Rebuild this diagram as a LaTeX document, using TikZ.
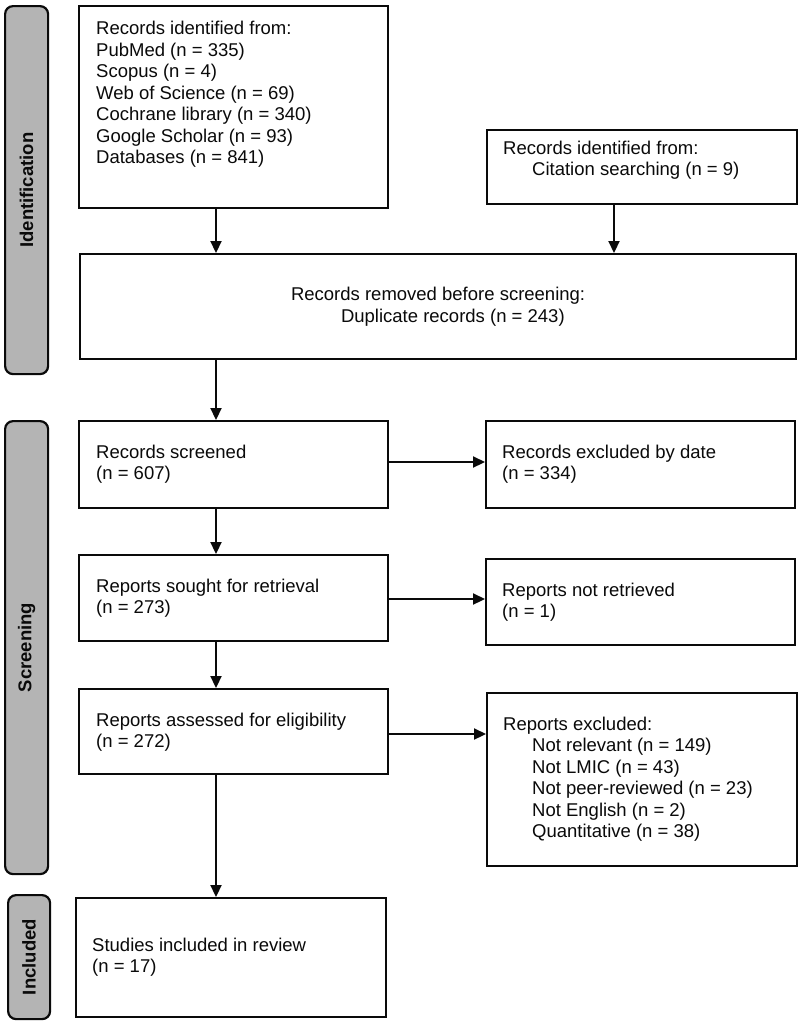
\documentclass[tikz,border=0pt]{standalone}
\usepackage{fontspec}
\setmainfont{Liberation Sans}
\usetikzlibrary{arrows.meta}
\definecolor{bargray}{RGB}{180,180,180}
\definecolor{ink}{RGB}{10,10,10}
\tikzset{
  x=1pt,y=-1pt,
  boxframe/.style={draw=ink,line width=2.2pt,fill=white,inner sep=0pt,anchor=north west},
  phase/.style={draw=ink,line width=2.2pt,fill=bargray,rounded corners=8pt,inner sep=0pt,anchor=north west},
  phaselabel/.style={rotate=90,font=\fontsize{18.5}{20}\selectfont\bfseries,text=ink},
  txt/.style={font=\fontsize{18.5}{21.5}\selectfont,align=left,inner sep=0pt,text=ink},
  arr/.style={draw=ink,line width=2.2pt,-{Triangle[length=12pt,width=11pt]}}
}
\begin{document}
\begin{tikzpicture}
\useasboundingbox (0,0) rectangle (800,1023);
% phase bars
\node[phase,minimum width=43pt,minimum height=368pt] (pid) at (4,5) {};
\node[phaselabel] (lid) at (pid.center) {Identification};
\node[phase,minimum width=43pt,minimum height=453pt] (psc) at (4,420) {};
\node[phaselabel] (lsc) at (psc.center) {Screening};
\node[phase,minimum width=42pt,minimum height=124pt] (pin) at (7,894) {};
\node[phaselabel] (lin) at (pin.center) {Included};
% boxes
\node[boxframe,minimum width=309pt,minimum height=202pt] (b1) at (78,5) {};
\node[txt,anchor=north west] (t1) at (96,21) {Records identified from:\\PubMed (n = 335)\\Scopus (n = 4)\\Web of Science (n = 69)\\Cochrane library (n = 340)\\Google Scholar (n = 93)\\Databases (n = 841)};
\node[boxframe,minimum width=310pt,minimum height=74pt] (b2) at (486,129) {};
\node[txt,anchor=west] (t2) at (503,160) {Records identified from:\\\hspace*{29pt}Citation searching (n = 9)};
\node[boxframe,minimum width=716pt,minimum height=105pt] (dup) at (79,253) {};
\node[txt] (tdup) at (dup.center) {Records removed before screening:\\\hspace*{50pt}Duplicate records (n = 243)};
\node[boxframe,minimum width=309pt,minimum height=87pt] (scr) at (78,420) {};
\node[txt,anchor=west] (tscr) at (96,464) {Records screened\\(n = 607)};
\node[boxframe,minimum width=309pt,minimum height=87pt] (exd) at (485,420) {};
\node[txt,anchor=west] (texd) at (502,464) {Records excluded by date\\(n = 334)};
\node[boxframe,minimum width=309pt,minimum height=86pt] (sou) at (78,554) {};
\node[txt,anchor=west] (tsou) at (96,598) {Reports sought for retrieval\\(n = 273)};
\node[boxframe,minimum width=309pt,minimum height=86pt] (nre) at (485,558) {};
\node[txt,anchor=west] (tnre) at (502,602) {Reports not retrieved\\(n = 1)};
\node[boxframe,minimum width=309pt,minimum height=85pt] (ass) at (78,688) {};
\node[txt,anchor=west] (tass) at (96,732) {Reports assessed for eligibility\\(n = 272)};
\node[boxframe,minimum width=310pt,minimum height=173pt] (rex) at (486,692) {};
\node[txt,anchor=west] (trex) at (503,779) {Reports excluded:\\\hspace*{29pt}Not relevant (n = 149)\\\hspace*{29pt}Not LMIC (n = 43)\\\hspace*{29pt}Not peer-reviewed (n = 23)\\\hspace*{29pt}Not English (n = 2)\\\hspace*{29pt}Quantitative (n = 38)};
\node[boxframe,minimum width=310pt,minimum height=119pt] (inc) at (75,897) {};
\node[txt,anchor=west] (tinc) at (92,957) {Studies included in review\\(n = 17)};
% connectors
\coordinate (c1) at (216,0);
\coordinate (c2) at (614,0);
\draw[arr] (b1.south -| c1) -- (dup.north -| c1);
\draw[arr] (b2.south -| c2) -- (dup.north -| c2);
\draw[arr] (dup.south -| c1) -- (scr.north -| c1);
\draw[arr] (scr.south -| c1) -- (sou.north -| c1);
\draw[arr] (sou.south -| c1) -- (ass.north -| c1);
\draw[arr] (ass.south -| c1) -- (inc.north -| c1);
\coordinate (h1) at (0,462);
\coordinate (h2) at (0,599);
\coordinate (h3) at (0,734);
\draw[arr] (scr.east |- h1) -- (exd.west |- h1);
\draw[arr] (sou.east |- h2) -- (nre.west |- h2);
\draw[arr] (ass.east |- h3) -- (rex.west |- h3);
\end{tikzpicture}
\end{document}
